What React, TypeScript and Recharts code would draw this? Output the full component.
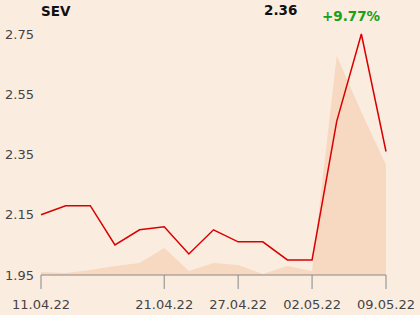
// SevChart — price line (red) over a shaded volume area, with a small header row.

import { ComposedChart, Line, Area, XAxis, YAxis, CartesianGrid } from 'recharts';

const dates = [
  '11.04.22', '12.04.22', '13.04.22', '14.04.22', '20.04.22', '21.04.22', '22.04.22', '26.04.22',
  '27.04.22', '28.04.22', '29.04.22', '02.05.22', '04.05.22', '06.05.22', '09.05.22',
];
const prices = [2.15, 2.18, 2.18, 2.05, 2.10, 2.11, 2.02, 2.10, 2.06, 2.06, 2.00, 2.00, 2.46, 2.75, 2.36];
const volumes = [3, 2, 5, 9, 12, 27, 4, 12, 10, 1, 9, 4, 219, 163, 110];

const xTicks = ['11.04.22', '21.04.22', '27.04.22', '02.05.22', '09.05.22'];
const yTicks = [1.95, 2.15, 2.35, 2.55, 2.75];

const BG = '#fbece0';
const AXIS_FONT = { fill: '#444', fontSize: 13, fontFamily: 'DejaVu Sans' };

const rows = dates.map((d, i) => ({ date: d, price: prices[i], vol: volumes[i] }));

export default function App() {
  return (
    <div style={{ position: 'fixed', left: 0, top: 0, width: 420, height: 315, background: BG }}>
      <ComposedChart width={420} height={315} data={rows} margin={{ top: 34, right: 34, bottom: 0, left: 0 }}>
        <CartesianGrid vertical={false} stroke="#b4b0ac" horizontalValues={yTicks} />
        <XAxis
          dataKey="date"
          scale="point"
          padding={{ left: 0, right: 0 }}
          ticks={xTicks}
          interval={0}
          height={40}
          tickSize={14}
          tickMargin={11}
          stroke="#888"
          tick={AXIS_FONT}
        />
        <YAxis
          yAxisId="p"
          domain={[1.95, 2.75]}
          ticks={yTicks}
          tickFormatter={v => v.toFixed(2)}
          width={41}
          axisLine={false}
          tickLine={false}
          tickSize={0}
          tickMargin={7}
          tick={AXIS_FONT}
        />
        <YAxis yAxisId="v" hide domain={[0, 241]} />
        <Area
          yAxisId="v"
          dataKey="vol"
          type="linear"
          stroke="none"
          fill="#f7d8c1"
          fillOpacity={1}
          isAnimationActive={false}
        />
        <Line
          yAxisId="p"
          dataKey="price"
          type="linear"
          stroke="#d80000"
          strokeWidth={1.5}
          dot={false}
          isAnimationActive={false}
        />
      </ComposedChart>
      <svg width={420} height={40} style={{ position: 'absolute', left: 0, top: 0 }}>
        <g fontFamily="DejaVu Sans" fontWeight="bold" fontSize={13.5}>
          <text x={41} y={15.5} fill="#111">SEV</text>
          <text x={264} y={14.5} fill="#111">2.36</text>
          <text x={322} y={21} fill="#18a018">+9.77%</text>
        </g>
      </svg>
    </div>
  );
}
